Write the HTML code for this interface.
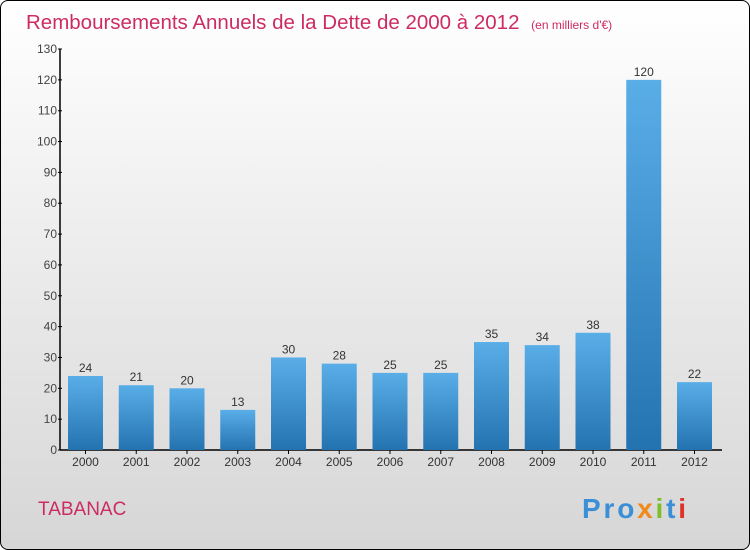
<!DOCTYPE html>
<html><head><meta charset="utf-8"><style>
html,body{margin:0;padding:0;width:750px;height:550px;overflow:hidden;font-family:"Liberation Sans",sans-serif}
#frame{position:absolute;left:0;top:0;width:748px;height:548px;border:1px solid #000;border-radius:8px;background:linear-gradient(#ffffff,#d6d6d6);overflow:hidden}
</style></head><body>
<div id="frame">
<svg id="chart" width="750" height="550" style="position:absolute;left:-1px;top:-1px">
<defs><linearGradient id="bg" x1="0" y1="0" x2="0" y2="1"><stop offset="0" stop-color="#5aaee8"/><stop offset="1" stop-color="#2373b0"/></linearGradient></defs>
<text x="26" y="29" font-size="20.5" fill="#cc2c63">Remboursements Annuels de la Dette de 2000 à 2012 <tspan font-size="12" dx="6">(en milliers d'€)</tspan></text>
<text x="38" y="515" font-size="19" fill="#cc2c63">TABANAC</text>
<text x="582" y="518" font-size="28" font-weight="bold" textLength="104"><tspan fill="#3b8fd6">Pro</tspan><tspan fill="#f08a1c">x</tspan><tspan fill="#7cbf2a">i</tspan><tspan fill="#3b8fd6">t</tspan><tspan fill="#e0312b">i</tspan></text>
<g id="axes"></g><g id="bars"></g>
</svg>
</div>
<script>
const years=["2000","2001","2002","2003","2004","2005","2006","2007","2008","2009","2010","2011","2012"];
const values=[24,21,20,13,30,28,25,25,35,34,38,120,22];
const yTicks=[0,10,20,30,40,50,60,70,80,90,100,110,120,130];
const NS="http://www.w3.org/2000/svg";
const y0=450,yTop=49,yMax=130,x0=60,step=50.75,bw=35,firstC=85.5;
const y=v=>y0-(v/yMax)*(y0-yTop);
const xc=i=>firstC+i*step;
function mk(t,a,p){const e=document.createElementNS(NS,t);for(const k in a)e.setAttribute(k,a[k]);p.appendChild(e);return e;}
const ax=document.getElementById('axes'),bars=document.getElementById('bars');
let l=mk('line',{x1:x0,y1:yTop,x2:x0,y2:y0,stroke:'#000','stroke-width':1.5},ax);


l=mk('line',{x1:x0,y1:y0,x2:722,y2:y0,stroke:'#000','stroke-width':1.5},ax);


yTicks.forEach(t=>{
 mk('line',{x1:x0-2,y1:y(t),x2:x0+2,y2:y(t),stroke:'#000'},ax);
 const tx=mk('text',{x:x0-3,y:y(t)+4,'font-size':12,fill:'#444','text-anchor':'end'},ax);
 tx.textContent=t;
 
 
});
values.forEach((v,i)=>{
 const r=mk('rect',{x:xc(i)-bw/2,y:y(v),width:bw,height:y0-y(v),fill:'url(#bg)'},bars);
 
 
 const lb=mk('text',{x:xc(i),y:y(v)-4,'font-size':12,fill:'#333','text-anchor':'middle'},bars);
 lb.textContent=v;
 
 
 mk('line',{x1:xc(i),y1:y0,x2:xc(i),y2:y0+4,stroke:'#000'},ax);
 const xl=mk('text',{x:xc(i),y:466,'font-size':12,fill:'#333','text-anchor':'middle'},ax);
 xl.textContent=years[i];
 
 
});
</script>
</body></html>
